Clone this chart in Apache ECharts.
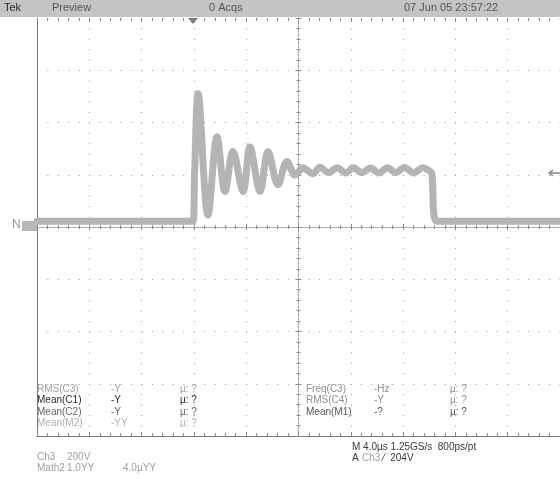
<!DOCTYPE html>
<html><head><meta charset="utf-8">
<script src="https://cdn.jsdelivr.net/npm/echarts@6/dist/echarts.min.js"></script>
<style>html,body{margin:0;padding:0;background:#fff}#c{width:560px;height:479px}</style>
</head><body><div id="c"></div>
<script>
// Time axis in microseconds (4.0 us/div), voltage axis in volts (200 V/div)
const timeUs = [-20, -8.08, -7.95, -7.68, -6.92, -6.23, -5.62, -5.01, -4.24, -3.71, -2.94, -2.33, -1.57, -0.88, -0.27, 0.34, 1.11, 1.64, 2.3, 2.95, 3.6, 4.2, 4.85, 5.5, 6.15, 6.8, 7.45, 8.1, 8.8, 9.5, 10.1, 10.2, 10.55, 20];
const ch3Volts = [22, 22, 200, 510, 46, 345, 136, 289, 136, 306, 136, 289, 162, 251, 199, 226, 204, 229, 208, 227, 207, 227, 208, 226, 207, 227, 208, 228, 207, 227, 212, 205, 22, 22];
const header = ['Tek', 'Preview', '0 Acqs', '07 Jun 05 23:57:22'];
const measLeft = [['RMS(C3)', '-Y', 'µ: ?'], ['Mean(C1)', '-Y', 'µ: ?'], ['Mean(C2)', '-Y', 'µ: ?'], ['Mean(M2)', '-YY', 'µ: ?']];
const measRight = [['Freq(C3)', '-Hz', 'µ: ?'], ['RMS(C4)', '-Y', 'µ: ?'], ['Mean(M1)', '-?', 'µ: ?']];
const triggerLevel = 204;

const FONT = '"Liberation Sans",Arial,sans-serif';
const data = timeUs.map((t, i) => [t, ch3Volts[i]]);
const chart = echarts.init(document.getElementById('c'), null, {renderer: 'canvas'});

const dotStyle = {color: '#9a9a9a', width: 1, type: [1, 9.45]};
function ax(extra) {
  return Object.assign({
    type: 'value', min: -20, max: 20, interval: 4,
    axisLabel: {show: false}, splitLine: {show: false},
    axisLine: {show: false}, axisTick: {show: false}, minorTick: {show: false}
  }, extra);
}
function ay(extra) {
  return Object.assign({
    type: 'value', min: -800, max: 800, interval: 200,
    axisLabel: {show: false}, splitLine: {show: false},
    axisLine: {show: false}, axisTick: {show: false}, minorTick: {show: false}
  }, extra);
}
const tickStyle = {color: '#8a8a8a', width: 1};
const centerTicks = {
  axisLine: {show: true, onZero: true, lineStyle: {color: '#9a9a9a', width: 1, type: [2, 2]}},
  axisTick: {show: true, length: 3, lineStyle: tickStyle},
  minorTick: {show: true, splitNumber: 5, length: 2, lineStyle: tickStyle}
};

const texts = [];
function txt(x, y, s, color, size) {
  texts.push({type: 'text', left: x, top: y, style: {text: s, fill: color, font: (size || 10) + 'px ' + FONT}, z: 10});
}
txt(4, 2, header[0], '#2a2a2a', 11);
txt(52, 2, header[1], '#555', 11);
txt(209, 2, header[2], '#555', 11);
txt(404, 2, header[3], '#555', 11);

const leftColors = ['#a0a0a0', '#2a2a2a', '#666', '#b0b0b0'];
measLeft.forEach((r, i) => {
  const y = 384 + i * 11.5;
  txt(37, y, r[0], leftColors[i]);
  txt(111, y, r[1], leftColors[i]);
  txt(180, y, r[2], leftColors[i]);
});
const rightColors = ['#909090', '#909090', '#555'];
measRight.forEach((r, i) => {
  const y = 384 + i * 11.5;
  txt(306, y, r[0], rightColors[i]);
  txt(374, y, r[1], rightColors[i]);
  txt(450, y, r[2], rightColors[i]);
});
txt(352, 442, 'M 4.0µs 1.25GS/s  800ps/pt', '#3a3a3a');
txt(352, 453, 'A', '#3a3a3a');
txt(362, 453, 'Ch3', '#a0a0a0');
txt(383, 453, '⁄  204V', '#3a3a3a');
txt(37, 452, 'Ch3', '#a0a0a0');
txt(67, 452, '200V', '#a0a0a0');
txt(37, 463, 'Math2', '#a0a0a0');
txt(67, 463, '1.0YY', '#a0a0a0');
txt(123, 463, '4.0µYY', '#a0a0a0');

const option = {
  animation: false,
  backgroundColor: '#ffffff',
  grid: {left: 37, top: 18, width: 523, height: 418, show: false},
  xAxis: [
    ax({splitLine: {show: true, lineStyle: dotStyle}}),
    ax(Object.assign({position: 'bottom'}, centerTicks)),
    ax(Object.assign({position: 'top'}, centerTicks)),
    ax({position: 'bottom', axisLine: {show: true, onZero: false, lineStyle: {color: '#777', width: 1}},
        axisTick: {show: true, inside: true, length: 4, lineStyle: tickStyle},
        minorTick: {show: true, splitNumber: 5, length: 3, lineStyle: tickStyle}}),
    ax({position: 'top', axisLine: {show: false, onZero: false},
        axisTick: {show: true, inside: true, length: 4, lineStyle: tickStyle},
        minorTick: {show: true, splitNumber: 5, length: 3, lineStyle: tickStyle}})
  ],
  yAxis: [
    ay({splitLine: {show: true, lineStyle: dotStyle}}),
    ay(Object.assign({position: 'left'}, centerTicks)),
    ay(Object.assign({position: 'right'}, centerTicks)),
    ay({position: 'left', axisLine: {show: true, onZero: false, lineStyle: {color: '#777', width: 1}}})
  ],
  graphic: [
    {type: 'rect', left: 0, top: 0, shape: {width: 560, height: 17}, style: {fill: '#c4c4c4'}, z: 5},
    {type: 'polygon', shape: {points: [[188, 18], [198, 18], [193, 24]]}, style: {fill: '#7a7a7a'}, z: 10},
    {type: 'rect', shape: {x: 22, y: 221, width: 15, height: 10}, style: {fill: '#b8b8b8'}, z: 10},
    {type: 'text', left: 12, top: 219, style: {text: 'N', fill: '#999', font: '12px ' + FONT}, z: 10},
    {type: 'polyline', shape: {points: [[549, 173], [560, 173]]}, style: {stroke: '#888', lineWidth: 1.5}, z: 10},
    {type: 'polyline', shape: {points: [[553, 170], [549, 173], [553, 176]]}, style: {stroke: '#888', lineWidth: 1.5, fill: null}, z: 10}
  ].concat(texts),
  series: [
    {
      type: 'line', xAxisIndex: 0, yAxisIndex: 0, data: data, showSymbol: false,
      smooth: 0.35,
      lineStyle: {color: '#b4b4b4', width: 7, join: 'round', cap: 'round'}, z: 3
    }
  ]
};
chart.setOption(option);
</script></body></html>
